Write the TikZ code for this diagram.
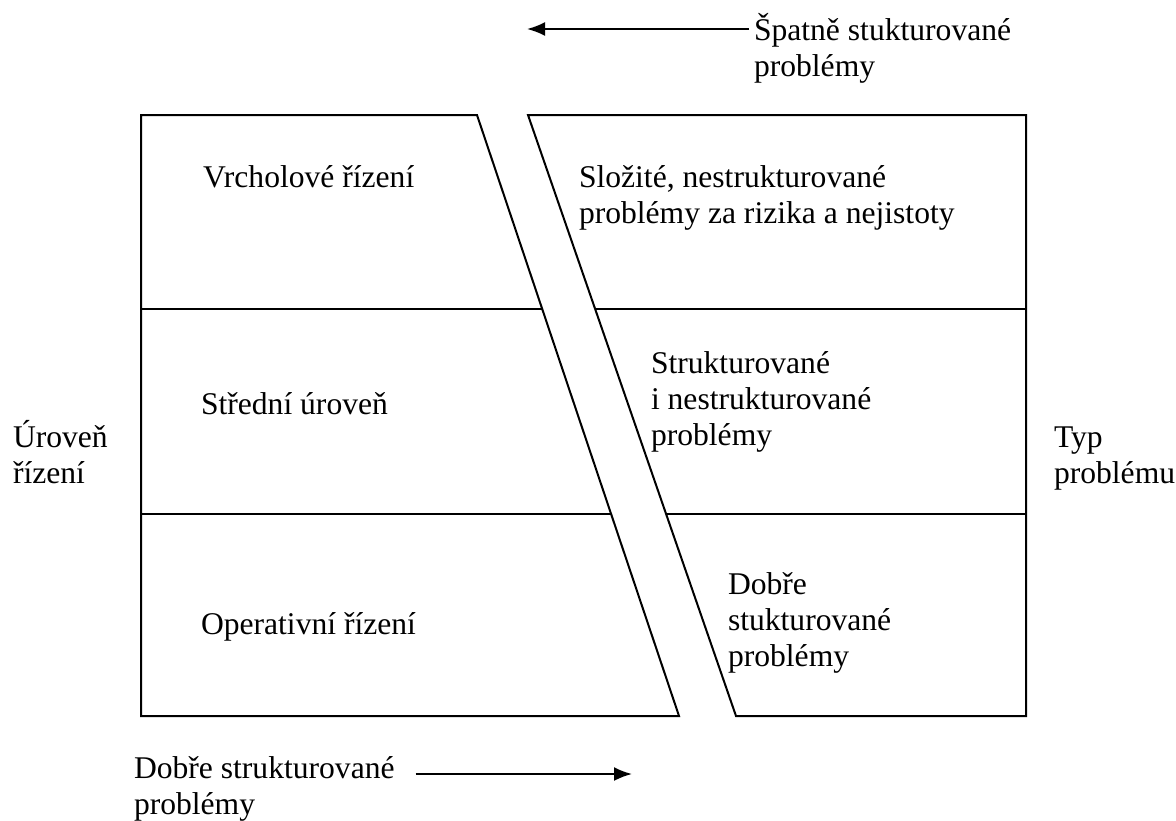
\documentclass[tikz,border=0pt]{standalone}
\usepackage{fontspec}
\setmainfont{Liberation Serif}
\usetikzlibrary{arrows.meta}
\begin{document}
\begin{tikzpicture}[x=0.5pt, y=-0.5pt,
                    line width=1pt,
                    every node/.style={inner sep=0pt, align=left, anchor=base west,
                                       font=\fontsize{15.8}{18}\selectfont}]
  \useasboundingbox (0,0) rectangle (1176,820);
  % corners of the two blocks
  \coordinate (ltl) at (141,115);
  \coordinate (ltr) at (477,115);
  \coordinate (lbr) at (679,716);
  \coordinate (lbl) at (141,716);
  \coordinate (rtl) at (528,115);
  \coordinate (rtr) at (1026,115);
  \coordinate (rbr) at (1026,716);
  \coordinate (rbl) at (736,716);
  % row borders
  \coordinate (la) at (141,309);
  \coordinate (lae) at (542.2,309);
  \coordinate (lb) at (141,514);
  \coordinate (lbe) at (611.1,514);
  \coordinate (ra) at (595.1,309);
  \coordinate (rae) at (1026,309);
  \coordinate (rb) at (666.1,514);
  \coordinate (rbe) at (1026,514);
  % arrow ends
  \coordinate (top_end) at (527,29);
  \coordinate (bottom_end) at (632,774);
  \draw (ltl) -- (ltr) -- (lbr) -- (lbl) -- cycle;
  \draw (rtl) -- (rtr) -- (rbr) -- (rbl) -- cycle;
  \draw (la) -- (lae);
  \draw (lb) -- (lbe);
  \draw (ra) -- (rae);
  \draw (rb) -- (rbe);
  % texts (base = last line)
  \node (vrcholove) at (202,187) {Vrcholové řízení};
  \node (stredni) at (200,414) {Střední úroveň};
  \node (operativni) at (200,634) {Operativní řízení};
  \node (slozite) at (578,223) {Složité, nestrukturované\\problémy za rizika a nejistoty};
  \node (strukturovane) at (650,445) {Strukturované\\i nestrukturované\\problémy};
  \node (dobre) at (727,666) {Dobře\\stukturované\\problémy};
  \node (uroven) at (12,483) {Úroveň\\řízení};
  \node (typ) at (1053,483) {Typ\\problému};
  \node (spatne) at (753,76) {Špatně stukturované\\problémy};
  \node (dobre_str) at (133,814) {Dobře strukturované\\problémy};
  \draw[-{Latex[length=9pt,width=7pt]}] (spatne.west |- top_end) ++(-4,0) -- (top_end);
  \draw[-{Latex[length=9pt,width=7pt]}] (dobre_str.east |- bottom_end) ++(20,0) -- (bottom_end);
\end{tikzpicture}
\end{document}
